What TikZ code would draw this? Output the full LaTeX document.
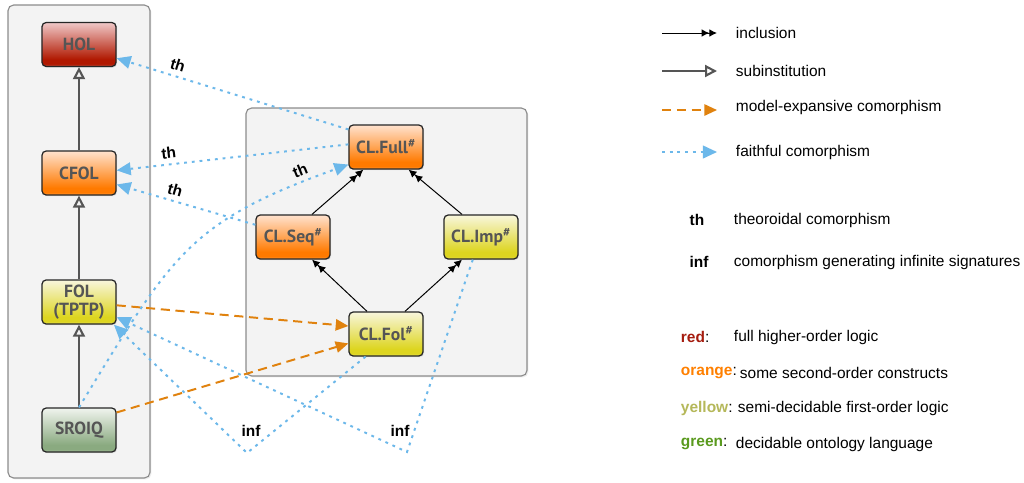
\documentclass[tikz,border=0pt]{standalone}
\usepackage{fontspec}
\setmainfont{Liberation Sans}
\newfontfamily\logicfont{PT Sans}
\usetikzlibrary{arrows.meta,shadows}

\definecolor{panelgray}{HTML}{F3F3F3}
\definecolor{faithblue}{HTML}{6CB8EA}
\definecolor{expandorange}{HTML}{E0820E}
\definecolor{subgray}{HTML}{555555}
\definecolor{legred}{HTML}{A51C0E}
\definecolor{legorange}{HTML}{FF8000}
\definecolor{legyellow}{HTML}{B5B85A}
\definecolor{leggreen}{HTML}{5A9A1E}
\definecolor{redtop}{HTML}{F0C8C8}
\definecolor{redbot}{HTML}{B01800}
\definecolor{orangetop}{HTML}{FFE2CE}
\definecolor{orangebot}{HTML}{FF7A00}
\definecolor{yellowtop}{HTML}{F8F6DC}
\definecolor{yellowbot}{HTML}{DDD520}
\definecolor{greentop}{HTML}{F0F4EE}
\definecolor{greenbot}{HTML}{8AAA80}

% glossy vertical shading: name, top colour, bottom colour
\newcommand{\glossshade}[3]{%
  \pgfdeclareverticalshading{#1}{100bp}{color(0bp)=(#3!75!white); color(25bp)=(#3!75!white);
    color(28bp)=(#3); color(33bp)=(#3); color(75bp)=(#2); color(100bp)=(#2)}}
\glossshade{redgloss}{redtop}{redbot}
\glossshade{orangegloss}{orangetop}{orangebot}
\glossshade{yellowgloss}{yellowtop}{yellowbot}
\glossshade{greengloss}{greentop}{greenbot}

\tikzset{
  logic/.style={draw=black!85, line width=0.9pt, rounded corners=3pt, shade,
    minimum width=1.85cm, minimum height=1.1cm, align=center, text=subgray,
    font=\logicfont\bfseries\fontsize{12.5}{13}\selectfont,
    drop shadow={opacity=0.2, shadow xshift=0.8pt, shadow yshift=-0.8pt}},
  holbox/.style={logic, shading=redgloss},
  sobox/.style={logic, shading=orangegloss},
  fobox/.style={logic, shading=yellowgloss},
  dlbox/.style={logic, shading=greengloss},
  panel/.style={draw=black!45, fill=panelgray, rounded corners=4pt, line width=0.8pt,
    drop shadow={opacity=0.15, shadow xshift=1pt, shadow yshift=-1pt}},
  incl/.style={-{Latex[length=5.5pt,width=5.5pt]Latex[length=5.5pt,width=5.5pt]}, line width=0.7pt},
  subinst/.style={draw=subgray, line width=1.5pt, -{Triangle[open,length=8.5pt,width=8.5pt]}},
  mexp/.style={draw=expandorange, line width=1.4pt, dash pattern=on 6.5pt off 4pt,
    -{Triangle[length=9pt,width=8pt]}},
  faith/.style={draw=faithblue, line width=1.4pt, dash pattern=on 2pt off 3.5pt,
    -{Triangle[length=10pt,width=9pt]}},
  tag/.style={font=\bfseries\fontsize{11}{12}\selectfont},
  legtext/.style={anchor=west, font=\fontsize{11}{12}\selectfont},
}

\begin{document}
\begin{tikzpicture}[x=0.025cm, y=-0.025cm]
    \useasboundingbox (0,0) rectangle (1024,482);
    \fill[white] (0,0) rectangle (1024,482);
    \draw[panel] (8,5) rectangle (150,478);
    \draw[panel] (246,108) rectangle (527,376);

    % logics
    \node[holbox] (HOL) at (79,44.5) {HOL};
    \node[sobox] (CFOL) at (79,173) {CFOL};
    \node[fobox] (FOL) at (79,302) {FOL\\(TPTP)};
    \node[dlbox] (SROIQ) at (79,430) {SROIQ};
    \node[sobox] (CLFull) at (386,147) {CL.Full\textsuperscript{\#}};
    \node[sobox] (CLSeq) at (293,237) {CL.Seq\textsuperscript{\#}};
    \node[fobox] (CLImp) at (481,237) {CL.Imp\textsuperscript{\#}};
    \node[fobox] (CLFol) at (386,334) {CL.Fol\textsuperscript{\#}};

    \draw[subinst] (CFOL) -- (HOL);
    \draw[subinst] (FOL) -- (CFOL);
    \draw[subinst] (SROIQ) -- (FOL);

    \draw[incl] (CLSeq.50) -- (CLFull.225);
    \draw[incl] (CLImp.130) -- (CLFull.-45);
    \draw[incl] (CLFol.130) -- (CLSeq.-50);
    \draw[incl] (CLFol.50) -- (CLImp.230);

    \draw[mexp] (FOL.-5) -- (CLFol.168);
    \draw[mexp] (SROIQ.25) -- (CLFol.194);

    \draw[faith] (CLFull.155) -- node[tag, pos=0.75, above, sloped] {th} (HOL.-20);
    \draw[faith] (CLFull.176) -- node[tag, pos=0.77, above, sloped] {th} (CFOL.4);
    \draw[faith] (CLSeq.162) -- node[tag, pos=0.6, above, sloped] {th} (CFOL.-17);
    \draw[faith] (SROIQ.north) .. controls (172,255) and (188,222) .. node[tag, pos=0.9, above=0pt, sloped] {th} (CLFull.205);
    \coordinate (infA) at (247,453);
    \coordinate (infB) at (407,452);
    \draw[faith] (CLFol.228) -- (infA) -- (FOL.-33);
    \draw[faith] (CLImp.250) -- (infB) -- (FOL.-22);
    \node[tag] (infa) at (251,431) {inf};
    \node[tag] (infb) at (400,431) {inf};

    % legend
    \foreach \name/\y in {inc/33, sub/71, exp/110, fth/152}{
      \coordinate (\name A) at (662,\y);
      \coordinate (\name B) at (717,\y);
    }
    \draw[incl] (incA) -- (incB);
    \draw[subinst] (subA) -- (subB);
    \draw[mexp] (expA) -- (expB);
    \draw[faith] (fthA) -- (fthB);
    \node[legtext] (incl) at (731,33) {inclusion};
    \node[legtext] (subl) at (731,71) {subinstitution};
    \node[legtext] (expl) at (731,107) {model-expansive comorphism};
    \node[legtext] (fthl) at (731,152) {faithful comorphism};
    \node[tag] (thk) at (697,220) {th};
    \node[tag] (infk) at (699,262) {inf};
    \node[legtext] (thl) at (729,220) {theoroidal comorphism};
    \node[legtext] (infl) at (729,262) {comorphism generating infinite signatures};
    \node[legtext] (redk) at (676,337) {\textcolor{legred}{\textbf{red}}:};
    \node[legtext] (orak) at (676,373) {\textcolor{legorange}{\textbf{orange}}:};
    \node[legtext] (yelk) at (676,408) {\textcolor{legyellow}{\textbf{yellow}}:};
    \node[legtext] (grek) at (676,444) {\textcolor{leggreen}{\textbf{green}}:};
    \node[legtext] (redl) at (729,337) {full higher-order logic};
    \node[legtext] (oral) at (735,373) {some second-order constructs};
    \node[legtext] (yell) at (733,408) {semi-decidable first-order logic};
    \node[legtext] (grel) at (731,444) {decidable ontology language};
\end{tikzpicture}
\end{document}
